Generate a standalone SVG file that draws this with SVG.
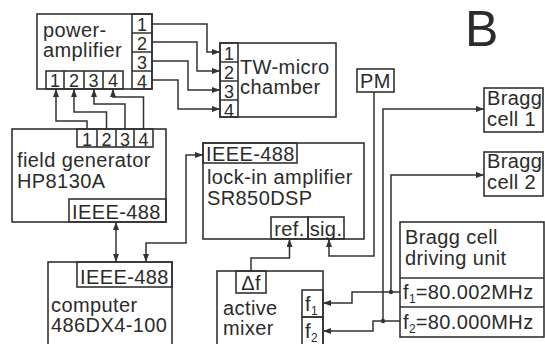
<svg xmlns="http://www.w3.org/2000/svg" width="545" height="344" viewBox="0 0 545 344">
<defs>
<marker id="ah" viewBox="0 0 8 6" refX="8" refY="3" markerWidth="8" markerHeight="6" markerUnits="userSpaceOnUse" orient="auto-start-reverse">
<path d="M0,0 L8,3 L0,6 z" fill="#333"/>
</marker>
<style>
.b{fill:none;stroke:#333;stroke-width:1.6}
.c{fill:none;stroke:#333;stroke-width:1.5}
.a{marker-end:url(#ah)}
.d{marker-start:url(#ah);marker-end:url(#ah)}
text{font-family:"Liberation Sans",Arial,sans-serif;font-size:20px;letter-spacing:0.4px;fill:#2b2b2b}
.p{font-size:18px;letter-spacing:0;text-anchor:middle}
.m{text-anchor:middle}
.s{font-size:12px;letter-spacing:0}
</style>
</defs>
<rect width="545" height="344" fill="#fff"/>
<text x="465" y="46" style="font-size:50px;letter-spacing:0">B</text>

<g id="power-amplifier">
<rect class="b" x="37" y="14" width="115" height="75"/>
<rect class="b" x="132" y="14" width="20" height="75"/>
<path class="b" d="M132,33H152M132,52H152M132,71H152"/>
<rect class="b" x="46" y="71" width="77" height="18"/>
<path class="b" d="M64,71V89M84,71V89M103,71V89"/>
<text x="43" y="37">power-</text>
<text x="43" y="57">amplifier</text>
<text class="p" x="142" y="31">1</text>
<text class="p" x="142" y="50">2</text>
<text class="p" x="142" y="69">3</text>
<text class="p" x="142" y="88">4</text>
<text class="p" x="55" y="87">1</text>
<text class="p" x="74" y="87">2</text>
<text class="p" x="93.5" y="87">3</text>
<text class="p" x="113" y="87">4</text>
</g>

<g id="tw-chamber">
<rect class="b" x="220" y="43" width="116" height="74"/>
<rect class="b" x="220" y="43" width="18" height="74"/>
<path class="b" d="M220,62H238M220,81H238M220,100H238"/>
<text class="p" x="229" y="60">1</text>
<text class="p" x="229" y="79">2</text>
<text class="p" x="229" y="97.5">3</text>
<text class="p" x="229" y="116.5">4</text>
<text x="240" y="74">TW-micro</text>
<text x="240" y="94">chamber</text>
</g>

<g id="field-generator">
<rect class="b" x="12" y="129" width="154" height="93"/>
<rect class="b" x="77" y="129" width="76" height="18"/>
<path class="b" d="M97,129V147M116,129V147M134,129V147"/>
<text class="p" x="87" y="146">1</text>
<text class="p" x="106.5" y="146">2</text>
<text class="p" x="125" y="146">3</text>
<text class="p" x="143.5" y="146">4</text>
<text x="17" y="167">field generator</text>
<text x="17" y="188">HP8130A</text>
<rect class="b" x="69" y="199" width="97" height="23"/>
<text x="72" y="219">IEEE-488</text>
</g>

<g id="lock-in">
<rect class="b" x="203" y="143" width="161" height="96"/>
<rect class="b" x="203" y="143" width="94" height="20"/>
<text x="206" y="161">IEEE-488</text>
<text x="207" y="184">lock-in amplifier</text>
<text x="207" y="205">SR850DSP</text>
<rect class="b" x="271" y="217" width="37" height="22"/>
<rect class="b" x="308" y="217" width="36" height="22"/>
<text class="m" x="289.5" y="236">ref.</text>
<text class="m" x="326" y="236">sig.</text>
</g>

<g id="computer">
<rect class="b" x="48" y="262" width="124" height="92"/>
<rect class="b" x="77" y="262" width="95" height="25"/>
<text x="80" y="284">IEEE-488</text>
<text x="51" y="312">computer</text>
<text x="51" y="332">486DX4-100</text>
</g>

<g id="active-mixer">
<rect class="b" x="217" y="271" width="106" height="82"/>
<rect class="b" x="236" y="271" width="30" height="22"/>
<text class="m" x="251" y="290">Δf</text>
<rect class="b" x="302" y="290" width="21" height="27"/>
<rect class="b" x="302" y="317" width="21" height="30"/>
<text x="305" y="311">f<tspan class="s" dy="4">1</tspan></text>
<text x="305" y="338">f<tspan class="s" dy="4">2</tspan></text>
<text x="223" y="315">active</text>
<text x="223" y="335">mixer</text>
</g>

<g id="pm">
<rect class="b" x="357" y="69" width="37" height="23"/>
<text class="m" x="375.5" y="88">PM</text>
</g>

<g id="bragg-cell-1">
<rect class="b" x="484" y="88" width="59" height="44"/>
<text x="487" y="105">Bragg</text>
<text x="487" y="126">cell 1</text>
</g>

<g id="bragg-cell-2">
<rect class="b" x="484" y="152" width="59" height="44"/>
<text x="487" y="168">Bragg</text>
<text x="487" y="189">cell 2</text>
</g>

<g id="driving-unit">
<rect class="b" x="400" y="222" width="144" height="115"/>
<path class="b" d="M400,278H544M400,307H544"/>
<text x="405" y="244">Bragg cell</text>
<text x="405" y="265">driving unit</text>
<text x="403" y="299">f<tspan class="s" dy="4">1</tspan><tspan dy="-4">=80.002MHz</tspan></text>
<text x="403" y="329">f<tspan class="s" dy="4">2</tspan><tspan dy="-4">=80.000MHz</tspan></text>
</g>

<g id="connectors">
<path class="c a" d="M152,24H207V52H220"/>
<path class="c a" d="M152,42H197V71H220"/>
<path class="c a" d="M152,61H188V90H220"/>
<path class="c a" d="M152,80H178V109H220"/>
<path class="c a" d="M87,129V121H56V89"/>
<path class="c a" d="M106.5,129V112H74V89"/>
<path class="c a" d="M125,129V104H94V89"/>
<path class="c a" d="M143.5,129V97H113V89"/>
<path class="c d" d="M116,222V262"/>
<path class="c d" d="M146,262V243H186V155H203"/>
<path class="c a" d="M251,271V258H289.5V239"/>
<path class="c a" d="M374,92V256H329V239"/>
<path class="c a" d="M383,321V109H484"/>
<path class="c a" d="M391,292V175H484"/>
<path class="c a" d="M400,292H352V303H323"/>
<path class="c a" d="M400,321H373V331H323"/>
<circle cx="391" cy="292" r="2.2" fill="#333"/>
<circle cx="383" cy="321" r="2.2" fill="#333"/>
</g>
</svg>
